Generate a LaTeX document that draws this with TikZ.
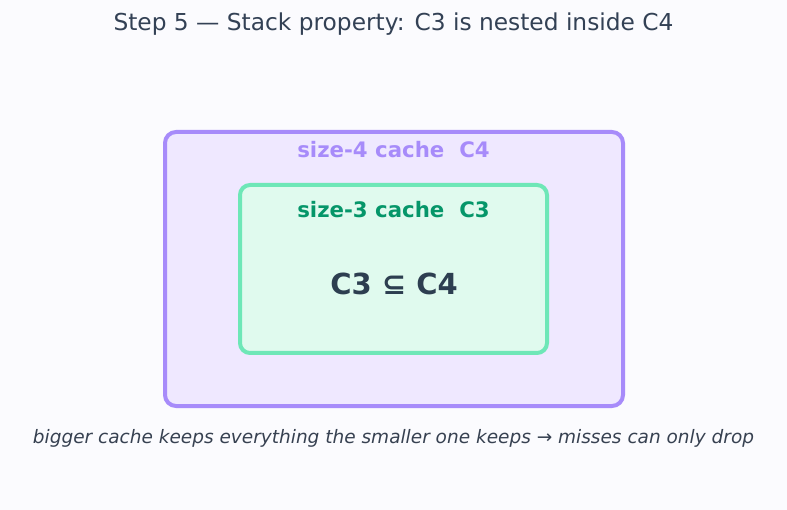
\documentclass[tikz,border=0pt]{standalone}
\usepackage{fontspec}
\setmainfont{DejaVu Sans}
\definecolor{bg}{HTML}{FBFBFE}
\definecolor{purpline}{HTML}{A78BFA}
\definecolor{purpfill}{HTML}{EFE8FF}
\definecolor{greenline}{HTML}{6EE7B7}
\definecolor{greenfill}{HTML}{E0FAEE}
\definecolor{greentext}{HTML}{059669}
\definecolor{darktext}{HTML}{2D3E50}
\definecolor{titletext}{HTML}{334155}
\definecolor{captext}{HTML}{374151}
\tikzset{
  outerbox/.style={draw=purpline, fill=purpfill, line width=4pt, rounded corners=11pt, inner sep=0pt, minimum width=458pt, minimum height=274pt},
  innerbox/.style={draw=greenline, fill=greenfill, line width=4pt, rounded corners=10pt, inner sep=0pt, minimum width=307pt, minimum height=168pt},
  lbl/.style={inner sep=0pt, anchor=center}
}
\begin{document}
\begin{tikzpicture}[x=1pt,y=-1pt]
\fill[bg] (0,0) rectangle (787,510);
\useasboundingbox (0,0) rectangle (787,510);
\node[lbl, text=titletext, font=\fontsize{23.3}{27}\selectfont] (title) at (393.5,24) {Step 5 — Stack property: C3 is nested inside C4};
\node[outerbox] (outer) at (394,269) {};
\node[lbl, text=purpline, font=\fontsize{21.3}{25}\selectfont\bfseries] (l4) at (393.5,150) {size-4 cache\ \ C4};
\node[innerbox] (inner) at (393.5,269) {};
\node[lbl, text=greentext, font=\fontsize{21.3}{25}\selectfont\bfseries] (l3) at (393.5,210) {size-3 cache\ \ C3};
\node[lbl, text=darktext, font=\fontsize{29}{34}\selectfont\bfseries] (rel) at (394,284) {C3 ⊆ C4};
\node[lbl, text=captext, font=\fontsize{18.5}{22}\selectfont\itshape] (cap) at (393.5,438) {bigger cache keeps everything the smaller one keeps → misses can only drop};
\end{tikzpicture}
\end{document}
